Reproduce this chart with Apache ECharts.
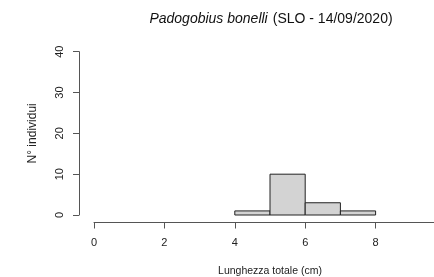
<!DOCTYPE html>
<html>
<head>
<meta charset="utf-8">
<script src="https://cdn.jsdelivr.net/npm/echarts@6/dist/echarts.min.js"></script>
<style>
html,body{margin:0;padding:0;background:#fff;}
#c{width:434px;height:277px;}
</style>
</head>
<body>
<div id="c"></div>
<script>
var binStarts = [4, 5, 6, 7];
var binEnds = [5, 6, 7, 8];
var counts = [1, 10, 3, 1];
var yTicks = [0, 10, 20, 30, 40];
var xTicks = [0, 2, 4, 6, 8];

var data = binStarts.map(function (s, i) { return [s, binEnds[i], counts[i]]; });
var chart = echarts.init(document.getElementById('c'), null, {renderer: 'canvas'});
var axisCol = '#555';
var txtCol = '#222';
var font = 'Liberation Sans, Arial, sans-serif';
chart.setOption({
  animation: false,
  backgroundColor: '#fff',
  title: {
    left: 266, top: 5, textAlign: 'center',
    text: '{i|Padogobius bonelli} {n|(SLO - 14/09/2020)}',
    textStyle: {
      fontWeight: 'normal',
      rich: {
        i: {fontStyle: 'italic', fontWeight: 'normal', fontSize: 14, fontFamily: font, color: '#111'},
        n: {fontWeight: 'normal', fontSize: 14, fontFamily: font, color: '#111'}
      }
    }
  },
  grid: {left: 94, top: 51.7, width: 352, height: 163.3, containLabel: false, outerBoundsMode: 'none'},
  xAxis: {
    type: 'value', min: 0, max: 10, interval: 2, offset: 7.5,
    splitLine: {show: false},
    axisLine: {show: true, onZero: false, lineStyle: {color: axisCol, width: 1}},
    axisTick: {show: true, length: 6, lineStyle: {color: axisCol}},
    axisLabel: {color: txtCol, fontSize: 11, fontFamily: font, margin: 15,
      formatter: function (v) { return xTicks.indexOf(v) >= 0 ? String(v) : ''; }},
    name: 'Lunghezza totale (cm)', nameLocation: 'middle', nameGap: 43.5,
    nameTextStyle: {color: txtCol, fontSize: 10.5, fontFamily: font}
  },
  yAxis: {
    type: 'value', min: 0, max: 40, interval: 10, offset: 15,
    splitLine: {show: false},
    axisLine: {show: true, onZero: false, lineStyle: {color: axisCol, width: 1}},
    axisTick: {show: true, length: 6, lineStyle: {color: axisCol}},
    axisLabel: {color: txtCol, fontSize: 11, fontFamily: font, rotate: 90, margin: 14,
      formatter: function (v) { return yTicks.indexOf(v) >= 0 ? String(v) : ''; }},
    name: 'N° individui', nameLocation: 'middle', nameGap: 40, nameRotate: 90,
    nameTextStyle: {color: txtCol, fontSize: 12, fontFamily: font}
  },
  series: [{
    type: 'custom',
    data: data,
    clip: false,
    renderItem: function (params, api) {
      var p0 = api.coord([api.value(0), 0]);
      var p1 = api.coord([api.value(1), api.value(2)]);
      return {
        type: 'rect',
        shape: {x: p0[0], y: p1[1], width: p1[0] - p0[0], height: p0[1] - p1[1]},
        style: {fill: '#d3d3d3', stroke: '#222', lineWidth: 1}
      };
    }
  }]
});
</script>
</body>
</html>
